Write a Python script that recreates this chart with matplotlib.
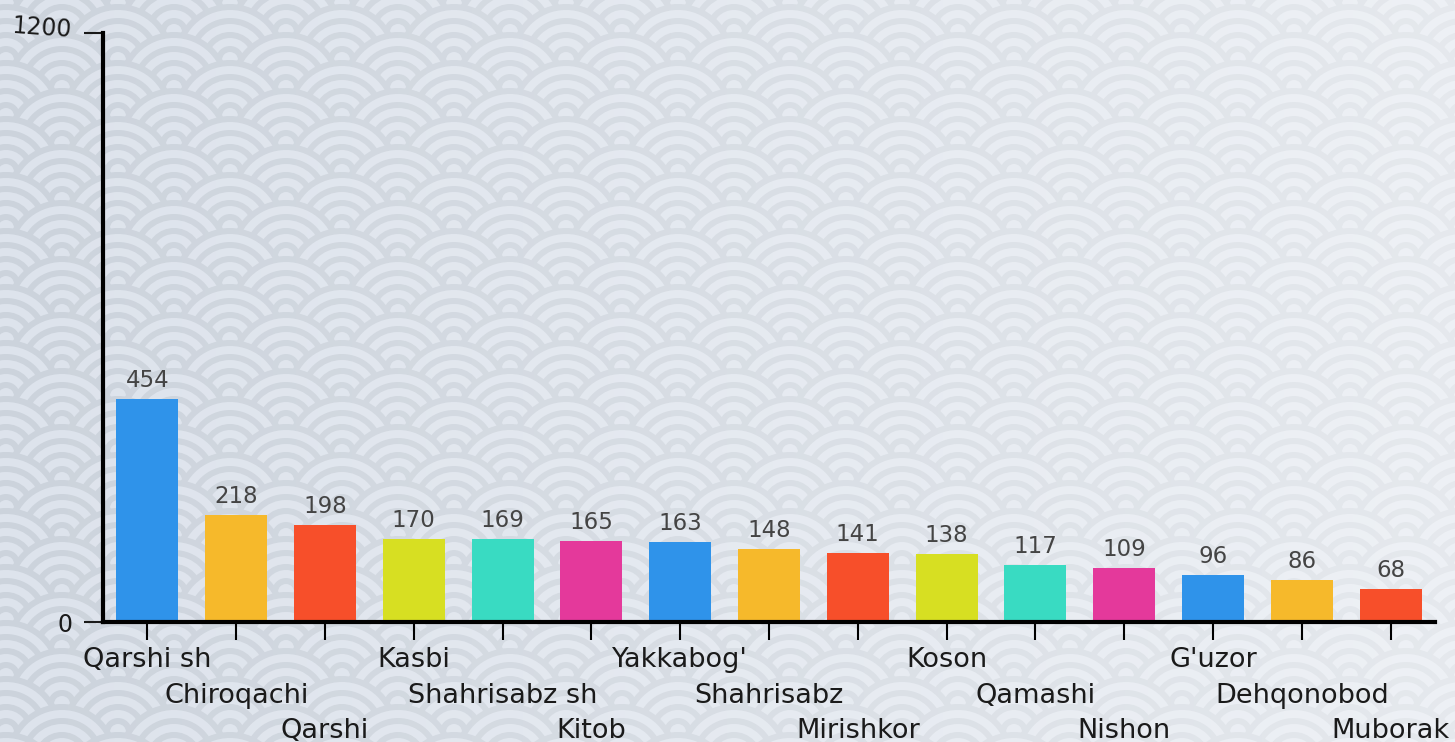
import numpy as np
import matplotlib.pyplot as plt
from matplotlib.patches import Circle
from matplotlib.collections import PatchCollection

# districts and counts
districts = ['Qarshi sh', 'Chiroqachi', 'Qarshi', 'Kasbi', 'Shahrisabz sh',
             'Kitob', "Yakkabog'", 'Shahrisabz', 'Mirishkor', 'Koson',
             'Qamashi', 'Nishon', "G'uzor", 'Dehqonobod', 'Muborak']
values = [454, 218, 198, 170, 169, 165, 163, 148, 141, 138, 117, 109, 96, 86, 68]
palette = ['#2f93ea', '#f6b92b', '#f74f2a', '#d7df22', '#39dbc2', '#e4399b']
y_ticks = [0, 1200]

W, H = 1455, 742
fig = plt.figure(figsize=(W / 100, H / 100), dpi=100)

# seigaiha wave background, drawn in pixel coordinates
bg = fig.add_axes([0, 0, 1, 1], zorder=0)
bg.set_xlim(0, W)
bg.set_ylim(H, 0)
bg.axis('off')
grey, light = '#ccd3dc', '#dde3ec'
rings = [(56, grey), (50, light), (42, grey), (36, light),
         (28, grey), (22, light), (14, grey), (8, light)]
patches, fcs = [], []
for j in range(-3, H // 28 + 4):
    cy = 32 + j * 28
    shift = 56 if j % 2 else 0
    for i in range(-2, W // 112 + 3):
        cx = 62 + shift + i * 112
        for r, c in rings:
            patches.append(Circle((cx, cy), r))
            fcs.append(c)
bg.add_collection(PatchCollection(patches, facecolors=fcs, edgecolors='none'))

# background fades lighter towards the right
fade = np.ones((2, 256, 4))
fade[..., 3] = np.linspace(0.0, 0.5, 256)
bg.imshow(fade, extent=(0, W, H, 0), aspect='auto', zorder=5)

ax = fig.add_axes([103 / W, 120 / H, 1332 / W, 589 / H], zorder=1)
ax.patch.set_alpha(0)

x = list(range(len(values)))
colors = [palette[i % len(palette)] for i in x]
ax.bar(x, values, width=0.7, color=colors)

for i, v in enumerate(values):
    ax.annotate(str(v), (i, v), xytext=(0, 7), textcoords='offset pixels',
                ha='center', va='bottom', fontsize=16.5, color='#444444')

# staggered category labels, three rows
for i, name in enumerate(districts):
    off = [45, 81, 116][i % 3]
    ax.annotate(name, (i, 0), xycoords=('data', 'axes fraction'),
                xytext=(0, -off), textcoords='offset pixels',
                ha='center', va='baseline', fontsize=19.5, color='#1a1a1a',
                annotation_clip=False)

ax.set_xlim(-0.5, len(values) - 0.5)
ax.set_ylim(0, 1200)
ax.set_xticks(x)
ax.set_xticklabels([''] * len(x))
ax.set_yticks(y_ticks)
ax.set_yticklabels(['0', ''])
# top label sits a little high and tilted
ax.annotate(str(y_ticks[1]), (0, y_ticks[1]), xycoords=('axes fraction', 'data'),
            xytext=(-31, 5), textcoords='offset pixels', ha='right', va='center',
            rotation=-4, fontsize=17, color='#1a1a1a', annotation_clip=False)

for s in ['top', 'right']:
    ax.spines[s].set_visible(False)
for s in ['left', 'bottom']:
    ax.spines[s].set_linewidth(3)
    ax.spines[s].set_color('black')
ax.tick_params(axis='y', length=14, width=1.5, pad=8, labelsize=17, colors='#1a1a1a')
ax.tick_params(axis='x', length=13, width=1.5)

fig.savefig('out.png', dpi=100)
